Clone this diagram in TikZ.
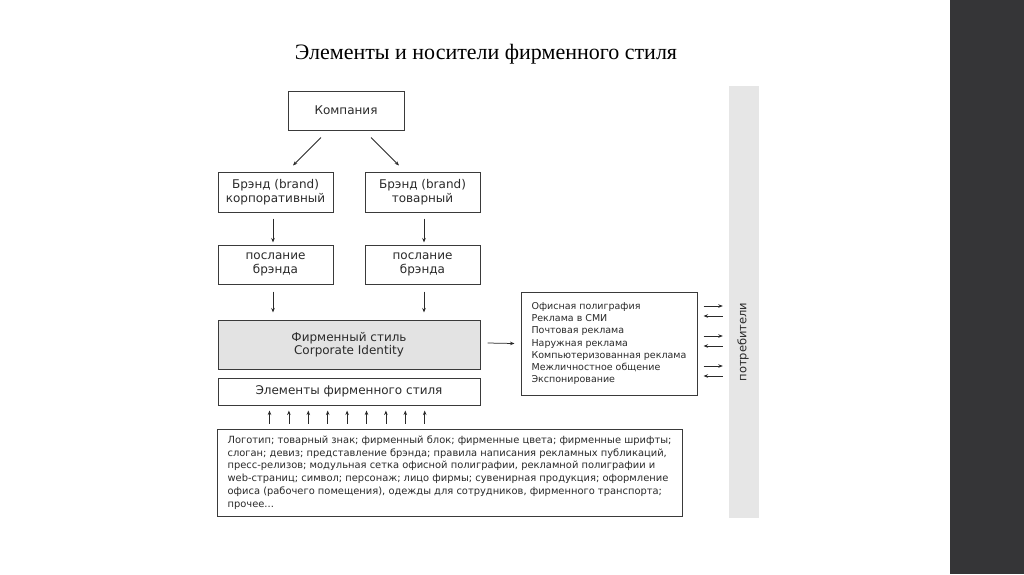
\documentclass[tikz,border=0pt]{standalone}
\usepackage{fontspec}
\setmainfont{DejaVu Sans}
\newfontfamily\titlefont{Liberation Serif}
\usetikzlibrary{arrows.meta}
\definecolor{ink}{HTML}{2A2A2A}
\definecolor{boxline}{HTML}{3A3A3A}
\definecolor{cifill}{HTML}{E3E3E3}
\definecolor{barfill}{HTML}{E6E6E6}
\definecolor{panel}{HTML}{353537}
\tikzset{
  x=1pt, y=-1pt,
  box/.style={draw=boxline, line width=1pt, fill=white, text=ink, inner sep=0pt,
    align=center, font=\fontsize{12}{13.5}\selectfont},
  arr/.style={draw=ink, line width=0.75pt, -{Stealth[length=4.5pt,width=3.5pt]}},
  small/.style={font=\fontsize{9.5}{12.2}\selectfont},
  tiny/.style={font=\fontsize{9.9}{12.8}\selectfont},
}
\begin{document}
\begin{tikzpicture}
\useasboundingbox (0,0) rectangle (1024,574);
\fill[white] (0,0) rectangle (1024,574);
\fill[panel] (950,0) rectangle (1024,574);

\node[text=black, font=\titlefont\fontsize{22}{25}\selectfont] (title) at (486,54) {Элементы и носители фирменного стиля};

\node[box, minimum width=116pt, minimum height=39pt] (komp) at (346,110.5) {Компания};
\node[box, minimum width=115pt, minimum height=40pt] (bc) at (275.5,192) {Брэнд (brand)\\корпоративный};
\node[box, minimum width=115pt, minimum height=40pt] (bt) at (422.5,192) {Брэнд (brand)\\товарный};
\node[box, minimum width=115pt, minimum height=39pt] (pc) at (275.5,264.5) {послание\\брэнда};
\node[box, minimum width=115pt, minimum height=39pt] (pt) at (422.5,264.5) {послание\\брэнда};
\node[box, fill=cifill, minimum width=262pt, minimum height=49pt] (ci) at (349,344.5) {Фирменный стиль\\Corporate Identity};
\node[box, minimum width=262pt, minimum height=27pt] (el) at (349,391.5) {Элементы фирменного стиля};
\node[box, small, align=left, minimum width=176pt, minimum height=103pt] (media) at (609,343.5) {Офисная полиграфия\\Реклама в СМИ\\Почтовая реклама\\Наружная реклама\\Компьютеризованная реклама\\Межличностное общение\\Экспонирование};
\node[box, tiny, align=left, minimum width=465pt, minimum height=87pt] (bottom) at (449.5,472.5) {Логотип; товарный знак; фирменный блок; фирменные цвета; фирменные шрифты;\\слоган; девиз; представление брэнда; правила написания рекламных публикаций,\\пресс-релизов; модульная сетка офисной полиграфии, рекламной полиграфии и\\web-страниц; символ; персонаж; лицо фирмы; сувенирная продукция; оформление\\офиса (рабочего помещения), одежды для сотрудников, фирменного транспорта;\\прочее...};

\node[fill=barfill, minimum width=30pt, minimum height=432pt, inner sep=0pt] (bar) at (744,302) {};
\node[rotate=90, text=ink, font=\fontsize{11.5}{13}\selectfont] (cons) at (743,342) {потребители};

\draw[arr] ([xshift=-25pt,yshift=-7pt]komp.south) -- ([xshift=17.5pt,yshift=6pt]bc.north);
\draw[arr] ([xshift=25pt,yshift=-7pt]komp.south) -- ([xshift=-23.5pt,yshift=6pt]bt.north);
\draw[arr] ([xshift=-2.5pt,yshift=-6pt]bc.south) -- ([xshift=-2.5pt,yshift=2pt]pc.north);
\draw[arr] ([xshift=1.5pt,yshift=-6pt]bt.south) -- ([xshift=1.5pt,yshift=2pt]pt.north);
\draw[arr] ([xshift=-2.5pt,yshift=-7pt]pc.south) -- ([xshift=-2.5pt,yshift=7pt]ci.north -| pc.south);
\draw[arr] ([xshift=1.5pt,yshift=-7pt]pt.south) -- ([xshift=1.5pt,yshift=7pt]ci.north -| pt.south);
\foreach \i in {0,...,8}{
  \pgfmathsetmacro\xx{52+\i*19.4}
  \draw[arr] ([xshift=\xx pt,yshift=-18pt]el.south west) -- ([xshift=\xx pt,yshift=-5pt]el.south west);
}
\draw[arr] ([xshift=7pt,yshift=1.5pt]ci.east) -- ([xshift=-6pt]media.west);
\foreach \yy in {306,336,366}{
  \draw[arr] ([xshift=6pt]media.east |- 0,\yy) -- ([xshift=-6pt]bar.west |- 0,\yy);
}
\foreach \yy in {316,346,376}{
  \draw[arr] ([xshift=-6pt]bar.west |- 0,\yy) -- ([xshift=6pt]media.east |- 0,\yy);
}
\end{tikzpicture}
\end{document}
